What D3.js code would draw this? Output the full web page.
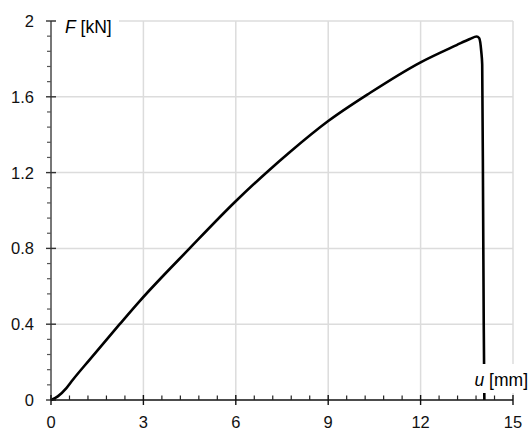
<!DOCTYPE html>
<html>
<head>
<meta charset="utf-8">
<script src="https://cdn.jsdelivr.net/npm/d3@7"></script>
<style>
  html, body { margin: 0; padding: 0; background: #fff; }
  svg { display: block; font-family: "Liberation Sans", Arial, sans-serif; }
</style>
</head>
<body>
<svg id="chart" width="530" height="430"></svg>
<script>
// Displacement u [mm]
const uValues = [0, 0.22, 0.5, 0.71, 1.25, 2.23, 2.88, 4.5, 5.98, 7.09, 7.74, 9.0, 10.35, 12.0, 13.17, 13.6, 13.82, 13.9, 13.97, 14.0, 14.03, 14.05, 14.07];
// Force F [kN]
const fValues = [0, 0.019, 0.063, 0.107, 0.212, 0.4, 0.522, 0.8, 1.046, 1.214, 1.306, 1.472, 1.62, 1.782, 1.873, 1.905, 1.918, 1.91, 1.838, 1.77, 1.0, 0.4, 0];
const xTicks = [0, 3, 6, 9, 12, 15];
const yTicks = [0, 0.4, 0.8, 1.2, 1.6, 2];
const yTickLabels = ["0", "0.4", "0.8", "1.2", "1.6", "2"];

const svg = d3.select("#chart");
const x = d3.scaleLinear().domain([0, 15]).range([51, 513]);
const y = d3.scaleLinear().domain([0, 2]).range([400, 21]);

const xMinor = d3.range(0, 15.001, 0.6).filter(v => Math.abs(v / 3 - Math.round(v / 3)) > 1e-6);
const yMinor = d3.range(0, 2.001, 0.08).filter(v => Math.abs(v / 0.4 - Math.round(v / 0.4)) > 1e-6);

// grid
const grid = svg.append("g");
grid.selectAll("line.gx").data(xTicks.slice(1)).join("line")
  .attr("x1", d => x(d)).attr("x2", d => x(d))
  .attr("y1", y(2)).attr("y2", y(0))
  .attr("stroke", "#dcdcdc").attr("stroke-width", 1.5);
grid.selectAll("line.gy").data(yTicks.slice(1)).join("line")
  .attr("x1", x(0)).attr("x2", x(15))
  .attr("y1", d => y(d)).attr("y2", d => y(d))
  .attr("stroke", "#dcdcdc").attr("stroke-width", 1.5);

// curve
const line = d3.line().curve(d3.curveMonotoneX)
  .x((d, i) => x(uValues[i])).y((d, i) => y(fValues[i]));
svg.append("path").datum(uValues)
  .attr("d", line)
  .attr("fill", "none").attr("stroke", "#000").attr("stroke-width", 2.6)
  .attr("stroke-linejoin", "round");

// axis labels with white background
const fLab = svg.append("g");
fLab.append("rect").attr("x", 56).attr("y", 12).attr("width", 63).attr("height", 24).attr("fill", "#fff");
const ft = fLab.append("text").attr("x", 65).attr("y", 33).attr("font-size", 17.5).attr("fill", "#000");
ft.append("tspan").attr("font-style", "italic").text("F");
ft.append("tspan").text(" [kN]");

const uLab = svg.append("g");
uLab.append("rect").attr("x", 472).attr("y", 364).attr("width", 58).attr("height", 29).attr("fill", "#fff");
const ut = uLab.append("text").attr("x", 528).attr("y", 386).attr("text-anchor", "end").attr("font-size", 17.5).attr("fill", "#000");
ut.append("tspan").attr("font-style", "italic").text("u");
ut.append("tspan").text(" [mm]");

// y axis
const yAxis = svg.append("g");
yAxis.append("line").attr("x1", x(0)).attr("x2", x(0)).attr("y1", y(0)).attr("y2", y(2))
  .attr("stroke", "#555").attr("stroke-width", 1.6);
yAxis.selectAll("line.ymaj").data(yTicks).join("line")
  .attr("x1", 46).attr("x2", 56).attr("y1", d => y(d)).attr("y2", d => y(d))
  .attr("stroke", "#333").attr("stroke-width", 1.4);
yAxis.selectAll("line.ymin").data(yMinor).join("line")
  .attr("x1", 47).attr("x2", x(0)).attr("y1", d => y(d)).attr("y2", d => y(d))
  .attr("stroke", "#555").attr("stroke-width", 1.2);
yAxis.selectAll("text").data(yTicks).join("text")
  .attr("x", 34).attr("y", d => y(d)).attr("dy", "0.36em")
  .attr("text-anchor", "end").attr("font-size", 16.5).attr("fill", "#111")
  .text((d, i) => yTickLabels[i]);

// x axis
const xAxis = svg.append("g");
xAxis.append("line").attr("x1", x(0)).attr("x2", x(15)).attr("y1", y(0)).attr("y2", y(0))
  .attr("stroke", "#111").attr("stroke-width", 1.6);
xAxis.selectAll("line.xmaj").data(xTicks).join("line")
  .attr("x1", d => x(d)).attr("x2", d => x(d)).attr("y1", 395).attr("y2", 405)
  .attr("stroke", "#111").attr("stroke-width", 1.4);
xAxis.selectAll("line.xmin").data(xMinor).join("line")
  .attr("x1", d => x(d)).attr("x2", d => x(d)).attr("y1", 395.5).attr("y2", 400)
  .attr("stroke", "#222").attr("stroke-width", 1.2);
xAxis.selectAll("text").data(xTicks).join("text")
  .attr("x", d => x(d)).attr("y", 428)
  .attr("text-anchor", "middle").attr("font-size", 16.5).attr("fill", "#111")
  .text(d => d);
</script>
</body>
</html>
